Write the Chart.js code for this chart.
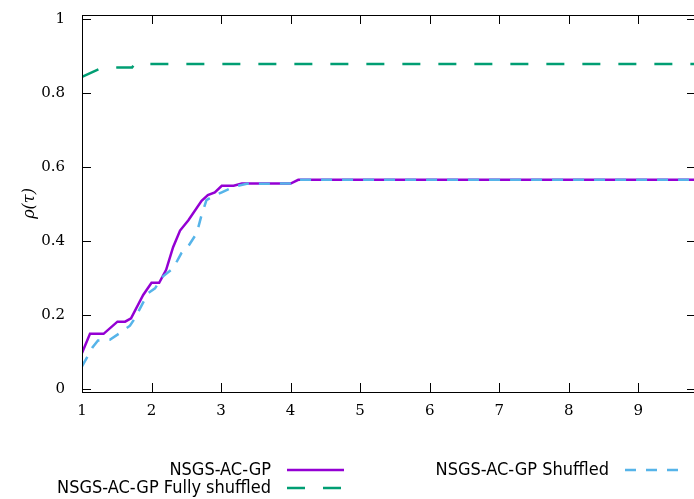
<!DOCTYPE html>
<html>
<head>
<meta charset="utf-8">
<script src="https://cdn.jsdelivr.net/npm/chart.js@4.4.1/dist/chart.umd.min.js"></script>
<style>
  html, body { margin: 0; padding: 0; overflow: hidden; background: #fff; }
  #wrap { width: 700px; height: 499px; }
</style>
</head>
<body>
<div id="wrap"><canvas id="rho"></canvas></div>
<script>
// performance profile values
const xMin = 1, xMax = 9.83;
const xTicks = [1, 2, 3, 4, 5, 6, 7, 8, 9];
const yTicks = [0, 0.2, 0.4, 0.6, 0.8, 1];

const nsgsX = [1.0, 1.115, 1.31, 1.51, 1.62, 1.705, 1.88, 2.0, 2.11, 2.21, 2.31, 2.41, 2.53, 2.72, 2.81, 2.91, 3.01, 3.18, 3.30, 4.0, 4.11, 9.83];
const nsgsY = [0.098, 0.150, 0.150, 0.183, 0.183, 0.192, 0.255, 0.288, 0.288, 0.323, 0.384, 0.429, 0.457, 0.509, 0.525, 0.532, 0.550, 0.550, 0.556, 0.556, 0.566, 0.566];

const shufX = [1.0, 1.15, 1.23, 1.40, 1.55, 1.69, 1.76, 1.95, 2.05, 2.15, 2.31, 2.43, 2.53, 2.65, 2.72, 2.79, 2.89, 3.01, 3.18, 3.37, 4.0, 4.11, 9.83];
const shufY = [0.062, 0.113, 0.132, 0.134, 0.153, 0.172, 0.192, 0.260, 0.273, 0.303, 0.327, 0.368, 0.387, 0.422, 0.471, 0.511, 0.522, 0.532, 0.547, 0.555, 0.556, 0.566, 0.566];

const fullX = [1.0, 1.26, 1.50, 1.72, 1.76, 9.83];
const fullY = [0.844, 0.866, 0.869, 0.869, 0.879, 0.879];

const labels = ['NSGS-AC-GP', 'NSGS-AC-GP Shuffled', 'NSGS-AC-GP Fully shuffled'];

function pts(xs, ys) { return xs.map((x, i) => ({x: x, y: ys[i]})); }

const serif = '"DejaVu Serif", "Liberation Serif", serif';
const sans = '"DejaVu Sans Condensed", "DejaVu Sans", sans-serif';

// gnuplot style inward ticks on all four sides + closed border
const frame = {
  id: 'frame',
  afterDraw(chart) {
    const c = chart.ctx, a = chart.chartArea;
    const xs = chart.scales.x, ys = chart.scales.y;
    c.save();
    c.strokeStyle = '#000';
    c.lineWidth = 1;
    c.strokeRect(a.left + 0.5, a.top + 0.5, a.right - a.left, a.bottom - a.top);
    c.beginPath();
    xTicks.forEach(v => {
      const p = Math.round(xs.getPixelForValue(v)) + 0.5;
      c.moveTo(p, a.bottom); c.lineTo(p, a.bottom - 9);
      c.moveTo(p, a.top); c.lineTo(p, a.top + 9);
    });
    yTicks.forEach(v => {
      const p = Math.round(ys.getPixelForValue(v)) + 0.5;
      c.moveTo(a.left, p); c.lineTo(a.left + 9, p);
      c.moveTo(a.right, p); c.lineTo(a.right - 9, p);
    });
    c.stroke();
    c.restore();
  }
};

// two column legend below the plot, text right aligned before the sample
const keyBox = {
  id: 'keyBox',
  afterDraw(chart) {
    const c = chart.ctx;
    const spots = [
      {ds: 0, tx: 271, y: 470},
      {ds: 1, tx: 609, y: 470},
      {ds: 2, tx: 271, y: 488}
    ];
    c.save();
    c.font = '18px ' + sans;
    c.textAlign = 'right';
    c.textBaseline = 'middle';
    spots.forEach(s => {
      const d = chart.data.datasets[s.ds];
      c.fillStyle = '#000';
      c.fillText(d.label, s.tx, s.y);
      c.beginPath();
      c.strokeStyle = d.borderColor;
      c.lineWidth = d.borderWidth;
      c.setLineDash(d.borderDash || []);
      c.moveTo(s.tx + 16, s.y);
      c.lineTo(s.tx + 73, s.y);
      c.stroke();
    });
    c.restore();
  }
};

window.addEventListener('load', () => {
  const ctx = document.getElementById('rho').getContext('2d');
  new Chart(ctx, {
    type: 'line',
    data: {
      datasets: [{
        label: labels[0],
        data: pts(nsgsX, nsgsY),
        borderColor: '#9400d3',
        borderWidth: 2.5,
        pointRadius: 0,
        tension: 0,
        order: 2
      }, {
        label: labels[1],
        data: pts(shufX, shufY),
        borderColor: '#56b4e9',
        borderWidth: 2.5,
        borderDash: [11, 10],
        pointRadius: 0,
        tension: 0,
        order: 1
      }, {
        label: labels[2],
        data: pts(fullX, fullY),
        borderColor: '#009e73',
        borderWidth: 2.5,
        borderDash: [18, 18],
        pointRadius: 0,
        tension: 0,
        order: 3
      }]
    },
    options: {
      responsive: true,
      maintainAspectRatio: false,
      animation: false,
      layout: { padding: { top: 15, right: 4, left: 0, bottom: 0 } },
      plugins: { legend: { display: false }, tooltip: { enabled: false } },
      scales: {
        x: {
          type: 'linear',
          min: xMin,
          max: xMax,
          afterBuildTicks: s => { s.ticks = xTicks.map(v => ({value: v})); },
          afterFit: s => { s.height = 107; s.paddingLeft = 0; s.paddingRight = 0; },
          grid: { display: false, drawTicks: false },
          border: { display: true, color: '#000' },
          ticks: { color: '#000', padding: 10, maxRotation: 0, font: { family: serif, size: 15 } }
        },
        y: {
          min: -0.007,
          max: 1.011,
          afterBuildTicks: s => { s.ticks = yTicks.map(v => ({value: v})); },
          afterFit: s => { s.width = 82; s.paddingTop = 0; s.paddingBottom = 0; },
          grid: { display: false, drawTicks: false },
          border: { display: true, color: '#000' },
          ticks: { color: '#000', padding: 17, font: { family: serif, size: 15 }, callback: v => String(v) },
          title: {
            display: true,
            text: 'ρ(τ)',
            color: '#000',
            padding: { top: 20 },
            font: { family: serif, size: 16, style: 'italic' }
          }
        }
      }
    },
    plugins: [frame, keyBox]
  });
});
</script>
</body>
</html>
